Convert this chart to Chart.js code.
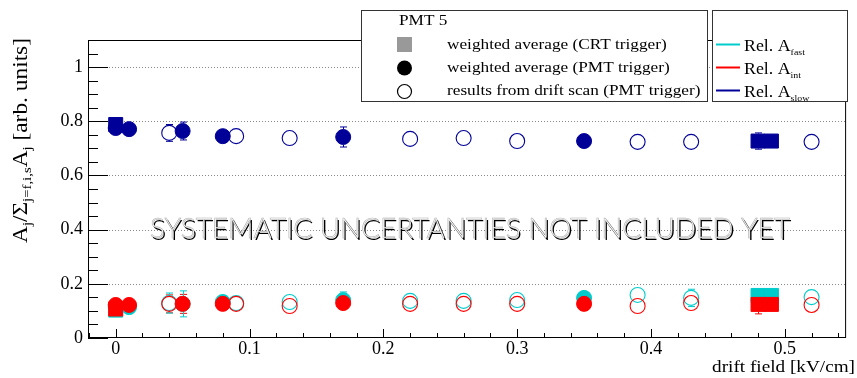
<!DOCTYPE html>
<html>
<head>
<meta charset="utf-8">
<script src="https://cdn.jsdelivr.net/npm/chart.js@4.4.1/dist/chart.umd.min.js"></script>
<style>
  html, body { margin: 0; padding: 0; background: #fff; }
  canvas { display: block; }
</style>
</head>
<body>
<canvas id="chart" width="857" height="378"></canvas>
<script>
// drift field of each measurement [kV/cm]
const crtField = [0, 0.48, 0.49];
const pmtField = [0, 0.01, 0.05, 0.08, 0.17, 0.35];
const scanField = [0.04, 0.09, 0.13, 0.22, 0.26, 0.30, 0.39, 0.43, 0.52];

// weighted average, CRT trigger
const crtFast = [0.103, 0.157, 0.157];
const crtInt = [0.107, 0.124, 0.124];
const crtSlow = [0.788, 0.727, 0.727];
const crtFastErr = [0.01, 0.01, 0.01];
const crtIntErr = [0.01, 0.035, 0.01];
const crtSlowErr = [0.02, 0.03, 0.01];

// weighted average, PMT trigger
const pmtFast = [0.114, 0.114, 0.126, 0.133, 0.140, 0.148];
const pmtInt = [0.122, 0.122, 0.126, 0.126, 0.129, 0.126];
const pmtSlow = [0.775, 0.771, 0.764, 0.745, 0.742, 0.727];
const pmtFastErr = [0.01, 0.01, 0.048, 0.01, 0.03, 0.01];
const pmtIntErr = [0.01, 0.01, 0.035, 0.01, 0.01, 0.01];
const pmtSlowErr = [0.02, 0.01, 0.033, 0.01, 0.037, 0.01];

// drift scan, PMT trigger
const scanFast = [0.129, 0.129, 0.133, 0.137, 0.137, 0.140, 0.159, 0.148, 0.151];
const scanInt = [0.126, 0.126, 0.118, 0.126, 0.126, 0.126, 0.118, 0.129, 0.122];
const scanSlow = [0.757, 0.745, 0.738, 0.735, 0.738, 0.727, 0.724, 0.724, 0.724];
const scanFastErr = [0.037, 0.01, 0.01, 0.01, 0.01, 0.01, 0.01, 0.032, 0.01];
const scanIntErr = [0.033, 0.01, 0.01, 0.01, 0.01, 0.01, 0.01, 0.01, 0.01];
const scanSlowErr = [0.031, 0.01, 0.01, 0.01, 0.01, 0.01, 0.01, 0.01, 0.01];

const xTicks = [0, 0.1, 0.2, 0.3, 0.4, 0.5];
const yTicks = [0, 0.2, 0.4, 0.6, 0.8, 1];
const yGrid = [0.2, 0.4, 0.6, 0.8, 1];

const colFast = '#00cccc';
const colInt = '#ff0000';
const colSlow = '#000099';
const serif = '"Liberation Serif", "Times New Roman", serif';

function series(label, xs, ys, errs, color, kind, order) {
  const square = kind === 'crt';
  return {
    label,
    data: xs.map((v, i) => ({ x: v, y: ys[i] })),
    yErr: errs,
    errColor: color,
    markHalf: square ? 7.5 : 8,
    pointStyle: square ? 'rect' : 'circle',
    pointRadius: square ? 9.9 : 7.5,
    backgroundColor: kind === 'scan' ? 'rgba(0,0,0,0)' : color,
    borderColor: color,
    borderWidth: kind === 'scan' ? 1.1 : 1,
    showLine: false,
    order
  };
}

function line(ctx, x1, y1, x2, y2) {
  ctx.beginPath();
  ctx.moveTo(x1, y1);
  ctx.lineTo(x2, y2);
  ctx.stroke();
}

// text with the slightly wide glyphs of the original canvas
function wideText(ctx, str, x, y, font, sx) {
  ctx.save();
  ctx.font = font;
  ctx.translate(x, y);
  ctx.scale(sx, 1);
  ctx.fillText(str, 0, 0);
  const w = ctx.measureText(str).width * sx;
  ctx.restore();
  return w;
}

const framePlugin = {
  id: 'rootFrame',
  beforeDatasetsDraw(chart) {
    const { ctx, chartArea: a, scales: { x, y } } = chart;
    ctx.save();
    ctx.lineWidth = 1;

    // dotted horizontal grid
    ctx.strokeStyle = '#888';
    ctx.setLineDash([1, 2]);
    yGrid.forEach(v => {
      const py = Math.round(y.getPixelForValue(v)) + 0.5;
      line(ctx, a.left, py, a.right, py);
    });
    ctx.setLineDash([]);

    // ticks pointing into the frame
    ctx.strokeStyle = '#000';
    for (let k = 0; k <= 21; k++) {
      const v = k * 0.05;
      const py = Math.round(y.getPixelForValue(v)) + 0.5;
      line(ctx, a.left, py, a.left + (k % 4 === 0 ? 20 : 10), py);
    }
    for (let k = -1; k <= 27; k++) {
      const v = k * 0.02;
      const px = Math.round(x.getPixelForValue(v)) + 0.5;
      if (px < a.left || px > a.right) continue;
      line(ctx, px, a.bottom, px, a.bottom - (k % 5 === 0 ? 9 : 5));
    }
    ctx.strokeRect(a.left + 0.5, a.top + 0.5, a.right - a.left - 1, a.bottom - a.top - 1);

    // error bars with end caps, only the part outside the marker
    chart.data.datasets.forEach(ds => {
      if (!ds.yErr) return;
      ctx.strokeStyle = ds.errColor;
      ds.data.forEach((p, i) => {
        const e = ds.yErr[i];
        const px = Math.round(x.getPixelForValue(p.x)) + 0.5;
        const pc = y.getPixelForValue(p.y);
        const top = y.getPixelForValue(p.y + e);
        const bot = y.getPixelForValue(p.y - e);
        const h = ds.markHalf;
        if (top < pc - h) {
          line(ctx, px, top, px, pc - h);
          line(ctx, px - 3.5, top, px + 3.5, top);
        }
        if (bot > pc + h) {
          line(ctx, px, pc + h, px, bot);
          line(ctx, px - 3.5, bot, px + 3.5, bot);
        }
      });
    });
    ctx.restore();
  },
  afterDatasetsDraw(chart) {
    const { ctx } = chart;
    ctx.save();

    // overlay note
    const note = 'SYSTEMATIC UNCERTANTIES NOT INCLUDED YET';
    ctx.font = '300 28px Lato, "DejaVu Sans", sans-serif';
    const nw = ctx.measureText(note).width;
    ctx.save();
    ctx.translate(150, 238);
    ctx.scale(640 / nw, 1);
    ctx.fillStyle = '#000';
    ctx.fillText(note, 1.5, 1.5);
    ctx.fillStyle = '#fff';
    ctx.fillText(note, 0, 0);
    ctx.strokeStyle = 'rgba(0,0,0,0.35)';
    ctx.lineWidth = 0.6;
    ctx.strokeText(note, 0, 0);
    ctx.restore();

    // legend boxes
    ctx.fillStyle = '#fff';
    ctx.strokeStyle = '#333';
    ctx.lineWidth = 1;
    [[361.5, 10.5, 346, 91], [712.5, 10.5, 135, 91]].forEach(([bx, by, bw, bh]) => {
      ctx.fillRect(bx, by, bw, bh);
      ctx.strokeRect(bx, by, bw, bh);
    });

    ctx.fillStyle = '#000';
    ctx.textBaseline = 'alphabetic';
    const lf = '15px ' + serif;
    wideText(ctx, 'PMT 5', 399, 25, lf, 1.15);

    ctx.fillStyle = '#999';
    ctx.fillRect(397, 37, 15, 15);
    ctx.fillStyle = '#000';
    ctx.beginPath();
    ctx.arc(404.5, 68, 7.5, 0, Math.PI * 2);
    ctx.fill();
    ctx.strokeStyle = '#000';
    ctx.lineWidth = 1.2;
    ctx.beginPath();
    ctx.arc(404.5, 91.5, 7, 0, Math.PI * 2);
    ctx.stroke();

    wideText(ctx, 'weighted average (CRT trigger)', 447, 48.5, lf, 1.15);
    wideText(ctx, 'weighted average (PMT trigger)', 447, 72, lf, 1.15);
    wideText(ctx, 'results from drift scan (PMT trigger)', 447, 95, lf, 1.15);

    const rel = [['fast', colFast, 44.5], ['int', colInt, 67.5], ['slow', colSlow, 90.5]];
    ctx.lineWidth = 2;
    rel.forEach(([sub, col, ly]) => {
      ctx.strokeStyle = col;
      line(ctx, 716, ly, 740, ly);
      const w = wideText(ctx, 'Rel. A', 744, ly + 6, '17px ' + serif, 1.05);
      wideText(ctx, sub, 744 + w, ly + 10, '9px ' + serif, 1.1);
    });

    // axis titles
    ctx.textAlign = 'right';
    wideText(ctx, 'drift field [kV/cm]', 855, 372, '17px ' + serif, 1.13);
    ctx.textAlign = 'left';

    const parts = [
      ['A', 0], ['j', 1], ['/', 0], ['\u03A3', 0], ['j=f,i,s', 1], ['A', 0], ['j', 1], [' [arb. units]', 0]
    ];
    const big = '19px ' + serif;
    const small = '12px ' + serif;
    let total = 0;
    parts.forEach(([t, s]) => { ctx.font = s ? small : big; total += ctx.measureText(t).width; });
    ctx.save();
    ctx.translate(27, 243);
    ctx.rotate(-Math.PI / 2);
    ctx.scale(205 / total, 1.1);
    let cx = 0;
    parts.forEach(([t, s]) => {
      ctx.font = s ? small : big;
      ctx.fillText(t, cx, s ? 4 : 0);
      cx += ctx.measureText(t).width;
    });
    ctx.restore();

    ctx.restore();
  }
};

new Chart(document.getElementById('chart'), {
  type: 'scatter',
  data: {
    datasets: [
      series('slow CRT', crtField, crtSlow, crtSlowErr, colSlow, 'crt', 1),
      series('slow PMT', pmtField, pmtSlow, pmtSlowErr, colSlow, 'pmt', 2),
      series('slow scan', scanField, scanSlow, scanSlowErr, colSlow, 'scan', 3),
      series('int CRT', crtField, crtInt, crtIntErr, colInt, 'crt', 4),
      series('int PMT', pmtField, pmtInt, pmtIntErr, colInt, 'pmt', 5),
      series('int scan', scanField, scanInt, scanIntErr, colInt, 'scan', 6),
      series('fast CRT', crtField, crtFast, crtFastErr, colFast, 'crt', 7),
      series('fast PMT', pmtField, pmtFast, pmtFastErr, colFast, 'pmt', 8),
      series('fast scan', scanField, scanFast, scanFastErr, colFast, 'scan', 9)
    ]
  },
  options: {
    responsive: false,
    animation: false,
    events: [],
    layout: { padding: { top: 40, right: 2, left: 0, bottom: 0 } },
    plugins: { legend: { display: false }, tooltip: { enabled: false } },
    scales: {
      x: {
        type: 'linear',
        min: -0.0207,
        max: 0.5458,
        afterBuildTicks: s => { s.ticks = xTicks.map(v => ({ value: v })); },
        afterFit: s => { s.height = 40; },
        grid: { display: false, drawTicks: false },
        border: { display: false },
        ticks: {
          color: '#000',
          padding: 0,
          maxRotation: 0,
          autoSkip: false,
          font: { family: serif, size: 18 },
          callback: v => String(v)
        }
      },
      y: {
        type: 'linear',
        min: 0,
        max: 1.1,
        afterBuildTicks: s => { s.ticks = yTicks.map(v => ({ value: v })); },
        afterFit: s => { s.width = 88; },
        grid: { display: false, drawTicks: false },
        border: { display: false },
        ticks: {
          color: '#000',
          padding: 5,
          autoSkip: false,
          font: { family: serif, size: 18 },
          callback: v => String(v)
        }
      }
    }
  },
  plugins: [framePlugin]
});
</script>
</body>
</html>
